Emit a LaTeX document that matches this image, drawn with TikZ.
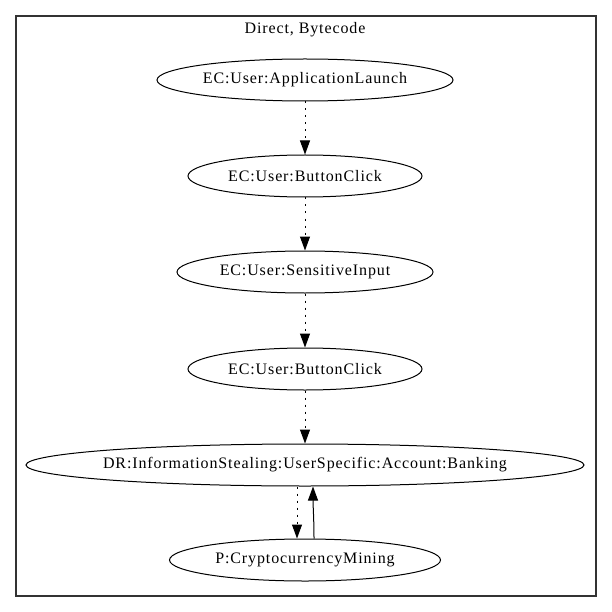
\documentclass[tikz,border=0pt]{standalone}
\usepackage{fontspec}
\setmainfont{Liberation Serif}[LetterSpace=5.5]
\usetikzlibrary{shapes.geometric,arrows.meta}
\begin{document}
\begin{tikzpicture}[x=1pt,y=-1pt,
  label text/.style={font=\fontsize{16}{18}\selectfont},
  state/.style={draw,ellipse,line width=1pt,inner xsep=-12pt,inner ysep=0pt,
    minimum height=42pt,label text},
  flow/.style={line width=1pt,-{Triangle[length=14pt,width=10pt]}},
  dots/.style={flow,dash pattern=on 2pt off 5pt}]
  \useasboundingbox (0,0) rectangle (611,612);
  \fill[white] (0,0) rectangle (611,612);
  % enclosing cluster
  \draw[line width=1.2pt,black!80] (16,16) rectangle (596,596);
  \node[label text] (title) at (305,30) {Direct, Bytecode};
  % states
  \node[state,minimum width=296pt] (n1) at (305,80) {EC:User:ApplicationLaunch};
  \node[state,minimum width=234pt] (n2) at (305,176) {EC:User:ButtonClick};
  \node[state,minimum width=256pt] (n3) at (305,272) {EC:User:SensitiveInput};
  \node[state,minimum width=234pt] (n4) at (305,369) {EC:User:ButtonClick};
  \node[state,minimum width=558pt] (n5) at (305,465) {DR:InformationStealing:UserSpecific:Account:Banking};
  \node[state,minimum width=271pt] (n6) at (305,560) {P:CryptocurrencyMining};
  % transitions
  \draw[dots] (n1) -- (n2);
  \draw[dots] (n2) -- (n3);
  \draw[dots] (n3) -- (n4);
  \draw[dots] (n4) -- (n5);
  \draw[dots] (n5.south -| 297,0) -- (n6.north -| 297,0);
  \draw[flow] (n6.north -| 314,0) .. controls (314,520) and (313,505) .. (n5.south -| 313,0);
\end{tikzpicture}
\end{document}
